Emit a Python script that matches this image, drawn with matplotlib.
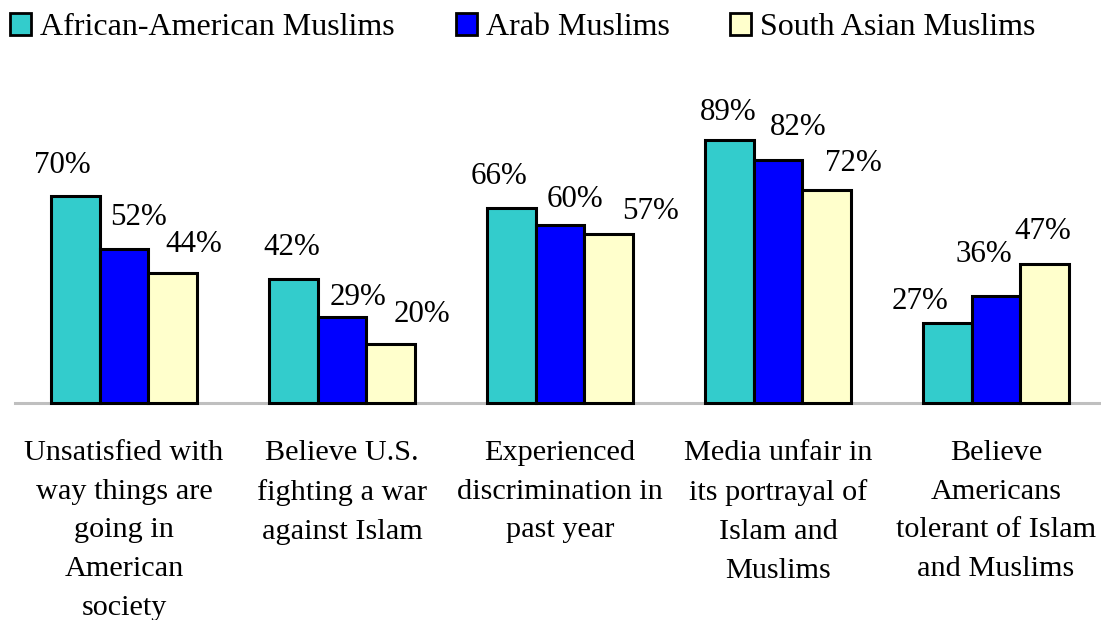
import matplotlib
matplotlib.use("Agg")
import matplotlib.pyplot as plt
from matplotlib.patches import Patch
import numpy as np

categories = [
    "Unsatisfied with\nway things are\ngoing in\nAmerican\nsociety",
    "Believe U.S.\nfighting a war\nagainst Islam",
    "Experienced\ndiscrimination in\npast year",
    "Media unfair in\nits portrayal of\nIslam and\nMuslims",
    "Believe\nAmericans\ntolerant of Islam\nand Muslims",
]
series_names = ["African-American Muslims", "Arab Muslims", "South Asian Muslims"]
african_american = [70, 42, 66, 89, 27]
arab = [52, 29, 60, 82, 36]
south_asian = [44, 20, 57, 72, 47]

colors = ["#33CCCC", "#0000FF", "#FFFFCC"]

# label offsets in pixels (dx, dy) from bar top, as placed in the original
label_offsets = [
    [(-13, 30), (-2, 31), (-12, 31), (-1, 27), (-27, 22)],
    [(14, 32), (16, 20), (15, 26), (20, 33), (-12, 42)],
    [(21, 28), (31, 29), (42, 23), (27, 26), (-2, 32)],
]

plt.rcParams['font.family'] = ['Liberation Serif', 'DejaVu Serif']

fig = plt.figure(figsize=(11.01, 6.2), dpi=100)
ax = fig.add_axes([15 / 1101, 217 / 620, 1090 / 1101, 296 / 620])

x = np.arange(len(categories))
w = 0.2225
px2pt = 0.72
for k, vals in enumerate([african_american, arab, south_asian]):
    xs = x + (k - 1) * w
    ax.bar(xs, vals, width=w, color=colors[k], edgecolor="black", linewidth=2.2,
           clip_on=False, zorder=2)
    for i, v in enumerate(vals):
        dx, dy = label_offsets[k][i]
        ax.annotate(f"{v}%", xy=(xs[i], v), xytext=(dx * px2pt, dy * px2pt),
                    textcoords="offset points", ha="center", va="center",
                    fontsize=22.3, annotation_clip=False)

for i, c in enumerate(categories):
    ax.annotate(c, xy=(i, 0), xytext=(0, -26.5), textcoords="offset points",
                ha="center", va="top", fontsize=21.8, linespacing=1.64,
                annotation_clip=False)

ax.axhline(0, color="#BFBFBF", linewidth=2.2, zorder=1, clip_on=False)
ax.set_xlim(-0.5, 4.5)
ax.set_ylim(0, 100)
ax.axis("off")

handles = [Patch(facecolor=c, edgecolor="black", linewidth=2) for c in colors]
fig.legend(handles, series_names, loc="upper left", bbox_to_anchor=(-0.011, 1.015),
           ncol=3, frameon=False, fontsize=23, handlelength=0.66, handleheight=0.7,
           handletextpad=0.28, columnspacing=1.9, borderaxespad=0.3)

fig.savefig("out.png", dpi=100)
